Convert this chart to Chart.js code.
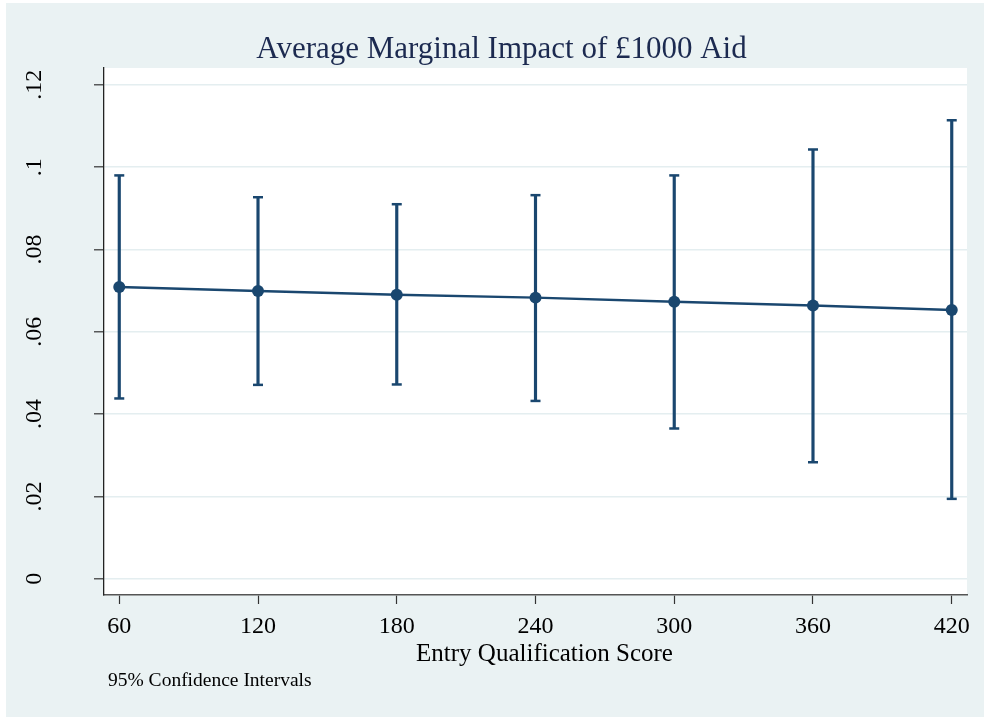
<!DOCTYPE html>
<html>
<head>
<meta charset="utf-8">
<title>Average Marginal Impact of £1000 Aid</title>
<script src="https://cdn.jsdelivr.net/npm/chart.js@4.4.1/dist/chart.umd.min.js"></script>
<style>
  html, body { margin: 0; padding: 0; background: #ffffff; }
  #wrap { width: 984px; height: 718px; }
  canvas { display: block; }
</style>
</head>
<body>
<div id="wrap"><canvas id="chart" width="984" height="718"></canvas></div>
<script>
// Entry qualification scores at which the margins were evaluated
const scores = [60, 120, 180, 240, 300, 360, 420];
// Average marginal effect of £1000 of aid, with 95% confidence bounds
const effects = [0.0709, 0.0699, 0.0690, 0.0683, 0.0673, 0.0664, 0.0653];
const ciLower = [0.0438, 0.0471, 0.0472, 0.0432, 0.0365, 0.0283, 0.0194];
const ciUpper = [0.0980, 0.0927, 0.0910, 0.0932, 0.0980, 0.1043, 0.1114];

// Axis ticks
const xTickValues = [60, 120, 180, 240, 300, 360, 420];
const yTickValues = [0, 0.02, 0.04, 0.06, 0.08, 0.1, 0.12];
const yTickLabels = ['0', '.02', '.04', '.06', '.08', '.1', '.12'];

const titleText = 'Average Marginal Impact of £1000 Aid';
const xTitleText = 'Entry Qualification Score';
const noteText = '95% Confidence Intervals';

const NAVY = '#1a476f';
const BG = '#eaf2f3';
const SERIF = "'Liberation Serif', 'Times New Roman', serif";

const meanPoints = scores.map((s, i) => ({ x: s, y: effects[i] }));
const ciRanges = scores.map((s, i) => ({ x: s, y: [ciLower[i], ciUpper[i]] }));
const capPoints = scores.map((s, i) => ({ x: s, y: ciUpper[i] }))
  .concat(scores.map((s, i) => ({ x: s, y: ciLower[i] })));

// Graph background, plot region fill
const backgroundPlugin = {
  id: 'graphBackground',
  beforeDraw(chart) {
    const { ctx, chartArea } = chart;
    ctx.save();
    ctx.fillStyle = '#ffffff';
    ctx.fillRect(0, 0, chart.width, chart.height);
    ctx.fillStyle = BG;
    ctx.fillRect(6, 3, chart.width - 6, chart.height - 4);
    ctx.fillStyle = '#ffffff';
    ctx.fillRect(chartArea.left, chartArea.top,
      chartArea.right - chartArea.left, chartArea.bottom - chartArea.top);
    ctx.restore();
  }
};

// Graph title, axis title and note
const textPlugin = {
  id: 'graphTexts',
  afterDraw(chart) {
    const { ctx, chartArea } = chart;
    ctx.save();
    ctx.textBaseline = 'alphabetic';
    ctx.textAlign = 'center';
    ctx.fillStyle = '#1c2a50';
    ctx.font = '31px ' + SERIF;
    ctx.fillText(titleText, 501.5, chartArea.top - 10.5);
    ctx.fillStyle = '#000000';
    ctx.font = '25px ' + SERIF;
    ctx.fillText(xTitleText, (chartArea.left + chartArea.right) / 2 + 9, chartArea.bottom + 66);
    ctx.font = '19.5px ' + SERIF;
    ctx.textAlign = 'left';
    ctx.fillText(noteText, chartArea.left + 4, chartArea.bottom + 91);
    ctx.restore();
  }
};

new Chart(document.getElementById('chart'), {
  type: 'line',
  data: {
    datasets: [
      {
        type: 'line',
        data: meanPoints,
        borderColor: NAVY,
        borderWidth: 2.4,
        backgroundColor: NAVY,
        pointRadius: 6,
        pointBorderWidth: 0,
        pointBackgroundColor: NAVY,
        tension: 0,
        fill: false,
        order: 0
      },
      {
        type: 'scatter',
        data: capPoints,
        pointStyle: 'line',
        pointRadius: 5,
        borderColor: NAVY,
        borderWidth: 2.5,
        showLine: false,
        order: 1
      },
      {
        type: 'bar',
        data: ciRanges,
        backgroundColor: NAVY,
        borderWidth: 0,
        barThickness: 2.5,
        grouped: false,
        order: 2
      }
    ]
  },
  options: {
    responsive: false,
    animation: false,
    events: [],
    layout: { padding: { left: 6, right: 17, top: 68, bottom: 0 } },
    plugins: {
      legend: { display: false },
      tooltip: { enabled: false },
      title: { display: false }
    },
    scales: {
      x: {
        type: 'linear',
        min: 53.4,
        max: 426.6,
        offset: false,
        afterBuildTicks(scale) {
          scale.ticks = xTickValues.map(v => ({ value: v }));
        },
        afterFit(scale) {
          scale.height = 123;
          scale.paddingLeft = 0;
          scale.paddingRight = 0;
        },
        grid: {
          offset: false,
          drawOnChartArea: false,
          drawTicks: true,
          tickLength: 9,
          tickColor: '#333333',
          tickWidth: 1.2
        },
        border: { display: true, color: '#555555', width: 1.6 },
        ticks: {
          color: '#000000',
          font: { family: SERIF, size: 24 },
          padding: 8,
          maxRotation: 0,
          autoSkip: false,
          callback: (v) => String(v)
        }
      },
      y: {
        type: 'linear',
        min: -0.00396,
        max: 0.1241,
        afterBuildTicks(scale) {
          scale.ticks = yTickValues.map(v => ({ value: v }));
        },
        afterFit(scale) {
          scale.width = 98;
          scale.paddingTop = 0;
          scale.paddingBottom = 0;
        },
        grid: {
          color: '#e4eef0',
          lineWidth: 1.6,
          drawTicks: true,
          tickLength: 10,
          tickColor: '#333333',
          tickWidth: 1.2
        },
        border: { display: true, color: '#222222', width: 1.3 },
        ticks: {
          color: '#000000',
          font: { family: SERIF, size: 24 },
          minRotation: 90,
          maxRotation: 90,
          crossAlign: 'center',
          padding: 44,
          autoSkip: false,
          callback: (v, i) => yTickLabels[i]
        }
      }
    }
  },
  plugins: [backgroundPlugin, textPlugin]
});
</script>
</body>
</html>
